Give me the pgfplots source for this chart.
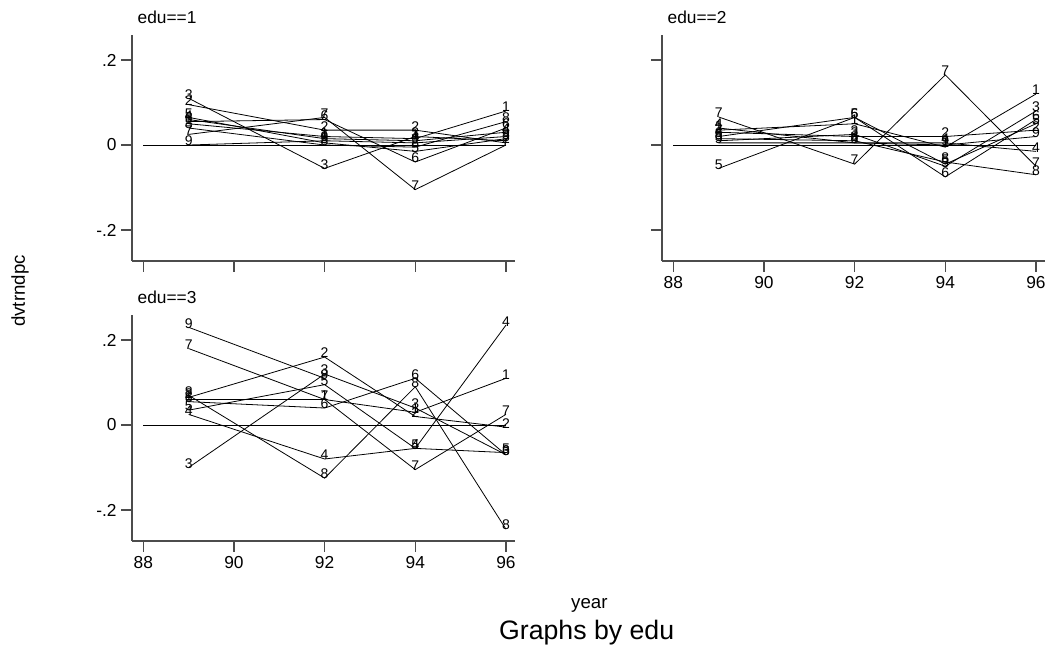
\documentclass[border=0pt]{standalone}
\usepackage{fontspec}
\setmainfont{Liberation Sans}
\usepackage{pgfplots}
\pgfplotsset{compat=1.18}

\newcommand\ticklab{\fontsize{13}{15}\selectfont}
\newcommand\mlab{\fontsize{10.5}{12}\selectfont}
\newcommand\ptitle{\fontsize{13}{15}\selectfont}

\pgfplotsset{
  panel/.style={
    scale only axis, width=287.25pt, height=169.5pt,
    anchor=south west, clip=false,
    xmin=87.75, xmax=96.2, ymin=-0.273, ymax=0.259,
    axis x line*=bottom, axis y line*=left,
    axis line style={black!70, line width=0.9pt, -},
    tick style={black!70, line width=0.9pt},
    tick align=outside, major tick length=8pt,
    xtick={88,90,92,94,96}, ytick={-0.2,0,0.2},
    yticklabels={-.2,0,.2},
    tick label style={font=\ticklab},
    /pgf/number format/assume math mode=true,
  },
  lab/.style={black, line width=0.6pt, mark=none, nodes near coords={#1},
    every node near coord/.append style={anchor=center, font=\mlab,
      inner sep=0pt, yshift=3pt, black}},
}

\begin{document}
\begin{tikzpicture}
\path[use as bounding box] (0,0) rectangle (788.25pt,491.25pt);

% edu==1
\begin{axis}[panel, at={(99pt,295.5pt)}, xticklabels={}]
\addplot[black, line width=0.6pt] coordinates {(88,0) (96,0)};
\addplot[lab=1] coordinates {(89,0.05) (92,0.02) (94,0.015) (96,0.08)};
\addplot[lab=2] coordinates {(89,0.095) (92,0.035) (94,0.035) (96,0.005)};
\addplot[lab=3] coordinates {(89,0.11) (92,-0.055) (94,0.02) (96,0.01)};
\addplot[lab=4] coordinates {(89,0.06) (92,0.015) (94,0.01) (96,0.03)};
\addplot[lab=5] coordinates {(89,0.065) (92,0.005) (94,-0.015) (96,0.015)};
\addplot[lab=6] coordinates {(89,0.055) (92,0.06) (94,-0.04) (96,0.04)};
\addplot[lab=7] coordinates {(89,0.025) (92,0.065) (94,-0.105) (96,0)};
\addplot[lab=8] coordinates {(89,0.04) (92,0) (94,-0.005) (96,0.055)};
\addplot[lab=9] coordinates {(89,0) (92,0.01) (94,0.005) (96,0.02)};
\end{axis}

% edu==2
\begin{axis}[panel, at={(496.5pt,295.5pt)}, yticklabels={}]
\addplot[black, line width=0.6pt] coordinates {(88,0) (96,0)};
\addplot[lab=1] coordinates {(89,0.035) (92,0.05) (94,-0.005) (96,0.12)};
\addplot[lab=2] coordinates {(89,0.03) (92,0.02) (94,0.02) (96,0.035)};
\addplot[lab=3] coordinates {(89,0.01) (92,0.025) (94,-0.05) (96,0.08)};
\addplot[lab=4] coordinates {(89,0.04) (92,0.005) (94,0.005) (96,-0.015)};
\addplot[lab=5] coordinates {(89,-0.055) (92,0.065) (94,-0.045) (96,0.05)};
\addplot[lab=6] coordinates {(89,0.02) (92,0.065) (94,-0.075) (96,0.06)};
\addplot[lab=7] coordinates {(89,0.066) (92,-0.045) (94,0.165) (96,-0.05)};
\addplot[lab=8] coordinates {(89,0.015) (92,0.01) (94,-0.04) (96,-0.07)};
\addplot[lab=9] coordinates {(89,0.005) (92,0.005) (94,0) (96,0.02)};
\end{axis}

% edu==3
\begin{axis}[panel, at={(99pt,85.5pt)}]
\addplot[black, line width=0.6pt] coordinates {(88,0) (96,0)};
\addplot[lab=1] coordinates {(89,0.06) (92,0.06) (94,0.03) (96,0.11)};
\addplot[lab=2] coordinates {(89,0.065) (92,0.16) (94,0.02) (96,-0.005)};
\addplot[lab=3] coordinates {(89,-0.1) (92,0.12) (94,0.04) (96,-0.07)};
\addplot[lab=4] coordinates {(89,0.025) (92,-0.08) (94,-0.055) (96,0.235)};
\addplot[lab=5] coordinates {(89,0.035) (92,0.095) (94,-0.055) (96,-0.065)};
\addplot[lab=6] coordinates {(89,0.055) (92,0.04) (94,0.11) (96,-0.07)};
\addplot[lab=7] coordinates {(89,0.18) (92,0.06) (94,-0.105) (96,0.025)};
\addplot[lab=8] coordinates {(89,0.07) (92,-0.125) (94,0.09) (96,-0.245)};
\addplot[lab=9] coordinates {(89,0.23) (92,0.11)};
\end{axis}

\node[anchor=west, font=\ptitle] at (99.75pt,478.5pt) {edu==1};
\node[anchor=west, font=\ptitle] at (497.25pt,478.5pt) {edu==2};
\node[anchor=west, font=\ptitle] at (99.75pt,268.5pt) {edu==3};
\node[rotate=90, font=\fontsize{14}{16}\selectfont] at (15pt,273pt) {dvtrndpc};
\node[font=\fontsize{14}{16}\selectfont] at (442pt,37pt) {year};
\node[font=\fontsize{20}{24}\selectfont] at (440pt,17pt) {Graphs by edu};
\end{tikzpicture}
\end{document}
